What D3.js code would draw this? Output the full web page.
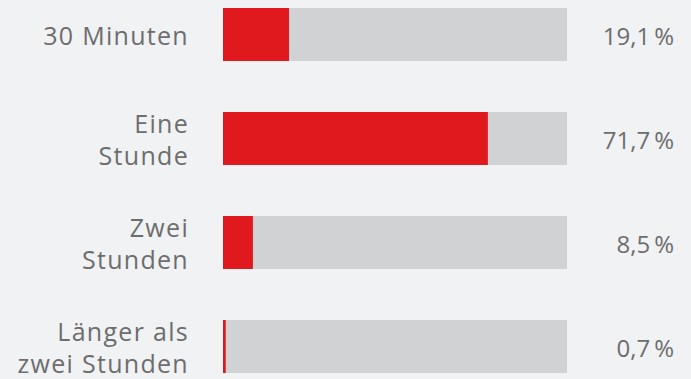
<!DOCTYPE html>
<html>
<head>
<meta charset="utf-8">
<script src="https://cdn.jsdelivr.net/npm/d3@7"></script>
<style>
  html, body { margin: 0; padding: 0; background: #f1f2f4; }
  svg { display: block; }
</style>
</head>
<body>
<svg width="691" height="379"></svg>
<script>
const categories = [["30 Minuten"], ["Eine", "Stunde"], ["Zwei", "Stunden"], ["Länger als", "zwei Stunden"]];
// Balkenlängen (Prozent der Gesamtbreite)
const barValues = [19.2, 77.0, 8.7, 0.8];
const valueLabels = ["19,1\u2009%", "71,7\u2009%", "8,5\u2009%", "0,7\u2009%"];

const svg = d3.select("svg");
svg.style("background-color", "#f1f2f4");

const ids = d3.range(categories.length);

// Skalen
const x = d3.scaleLinear().domain([0, 100]).range([223, 567]);
const y = d3.scaleBand()
  .domain(ids)
  .range([8, 373])
  .paddingInner(51 / 104)
  .paddingOuter(0);

const fontFamily = "'Open Sans', sans-serif";
const textColor = "#6d6d6d";
const lineH = 32;

// Hintergrundbalken
svg.selectAll("rect.bg")
  .data(ids)
  .join("rect")
  .attr("class", "bg")
  .attr("x", x(0))
  .attr("y", i => y(i))
  .attr("width", x(100) - x(0))
  .attr("height", y.bandwidth())
  .attr("fill", "#d1d2d4");

// Werte
svg.selectAll("rect.val")
  .data(ids)
  .join("rect")
  .attr("class", "val")
  .attr("x", x(0))
  .attr("y", i => y(i))
  .attr("width", i => x(barValues[i]) - x(0))
  .attr("height", y.bandwidth())
  .attr("fill", "#e0191f");

// Beschriftungen links
const labels = svg.selectAll("text.label")
  .data(ids)
  .join("text")
  .attr("class", "label")
  .attr("text-anchor", "end")
  .attr("fill", textColor)
  .style("font-family", fontFamily)
  .style("font-size", "25px")
  .style("letter-spacing", "1.3px");

labels.each(function (i) {
  const lines = categories[i];
  const cy = y(i) + y.bandwidth() / 2;
  const first = cy - (lines.length - 1) * lineH / 2;
  d3.select(this).selectAll("tspan")
    .data(lines)
    .join("tspan")
    .attr("x", 189)
    .attr("y", (d, k) => first + k * lineH)
    .attr("dy", "0.42em")
    .text(d => d);
});

// Prozentwerte rechts
svg.selectAll("text.value")
  .data(ids)
  .join("text")
  .attr("class", "value")
  .attr("text-anchor", "end")
  .attr("x", 674)
  .attr("y", i => y(i) + y.bandwidth() / 2)
  .attr("dy", "0.42em")
  .attr("fill", textColor)
  .style("font-family", fontFamily)
  .style("font-size", "24px")
  .text(i => valueLabels[i]);
</script>
</body>
</html>
